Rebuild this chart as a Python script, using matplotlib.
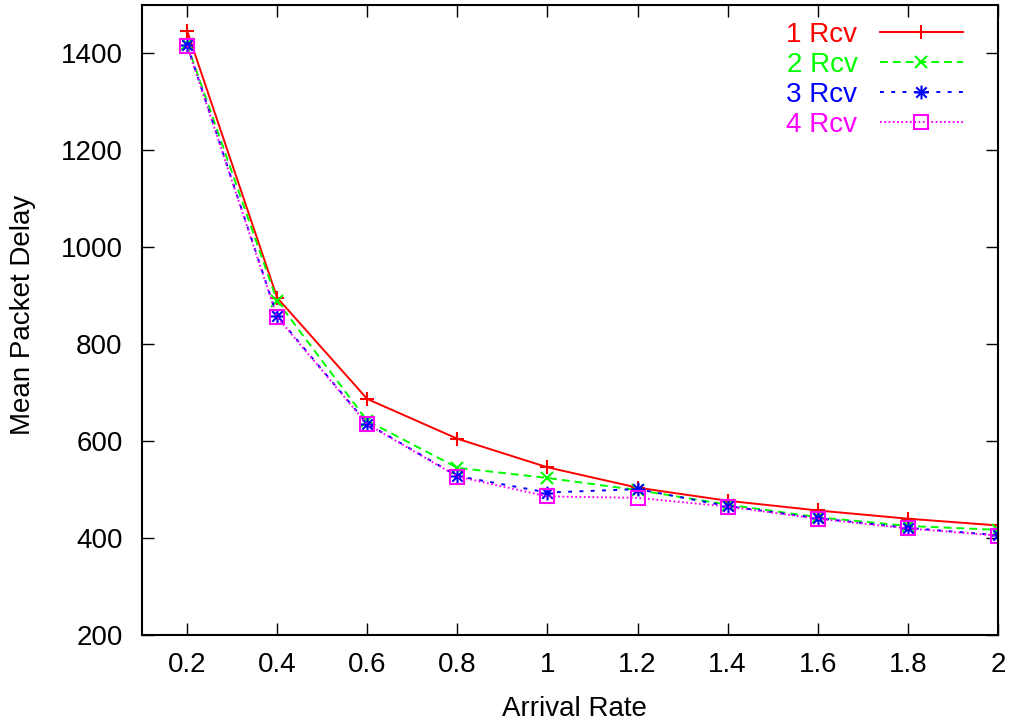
import matplotlib
matplotlib.use("Agg")
import matplotlib.pyplot as plt
from matplotlib.path import Path
from matplotlib.ticker import FuncFormatter

plt.rcParams['font.family'] = ['Liberation Sans', 'DejaVu Sans']

# Arrival rate and mean packet delay for 1..4 receivers
arrival_rate = [0.2, 0.4, 0.6, 0.8, 1.0, 1.2, 1.4, 1.6, 1.8, 2.0]
delay_1rcv = [1447, 896, 687, 605, 546, 504, 477, 457, 440, 426]
delay_2rcv = [1419, 889, 642, 545, 524, 499, 469, 443, 425, 417]
delay_3rcv = [1418, 858, 636, 528, 494, 501, 466, 441, 421, 406]
delay_4rcv = [1416, 856, 635, 527, 486, 483, 465, 440, 420, 405]
series_labels = ['1 Rcv', '2 Rcv', '3 Rcv', '4 Rcv']
x_ticks = [0.2, 0.4, 0.6, 0.8, 1.0, 1.2, 1.4, 1.6, 1.8, 2.0]
y_ticks = [200, 400, 600, 800, 1000, 1200, 1400]

# gnuplot-style asterisk: a plus overlaid with a cross
star_path = Path(
    [(-1, 0), (1, 0), (0, -1), (0, 1),
     (-0.75, -0.75), (0.75, 0.75), (-0.75, 0.75), (0.75, -0.75)],
    [Path.MOVETO, Path.LINETO] * 4,
)

fig = plt.figure(figsize=(10.10, 7.25), dpi=100)
ax = fig.add_axes([142 / 1010, 90 / 725, 856 / 1010, 630 / 725])

lw = 1.4
styles = [
    dict(color='#ff0000', linestyle='-', marker='+', markersize=10),
    dict(color='#00ff00', linestyle=(0, (4.0, 2.6)), marker='x', markersize=9),
    dict(color='#0000ff', linestyle=(0, (2.0, 3.8)), marker=star_path, markersize=10),
    dict(color='#ff00ff', linestyle=(0, (0.9, 1.3)), marker='s', markersize=10,
         markerfacecolor='none'),
]
for vals, lab, st in zip([delay_1rcv, delay_2rcv, delay_3rcv, delay_4rcv],
                         series_labels, styles):
    ax.plot(arrival_rate, vals, label=lab, linewidth=lw,
            markeredgewidth=1.5, **st)

ax.set_xlim(0.1, 2.0)
ax.set_ylim(200, 1500)
ax.set_xticks(x_ticks)
ax.set_yticks(y_ticks)
ax.xaxis.set_major_formatter(FuncFormatter(lambda v, p: f"{v:g}"))
ax.tick_params(axis='both', which='major', direction='in', length=8.5,
               width=1.0, labelsize=20, top=True, right=True)
ax.tick_params(axis='x', pad=12)
ax.tick_params(axis='y', pad=14)
for sp in ax.spines.values():
    sp.set_linewidth(1.5)

fig.text(574 / 1010, 1 - 709 / 725, 'Arrival Rate', fontsize=20,
         ha='center', va='center')
fig.text(23 / 1010, 1 - 315 / 725, 'Mean Packet Delay', fontsize=20,
         ha='center', va='center', rotation=90)

leg = ax.legend(loc='upper right', bbox_to_anchor=((963 - 142) / 856, (635 - 22) / 630),
                frameon=False, markerfirst=False, fontsize=20, handlelength=3.0,
                handletextpad=0.8, labelspacing=0.14, borderpad=0, borderaxespad=0,
                labelcolor='linecolor')

fig.savefig('out.png', dpi=100)
